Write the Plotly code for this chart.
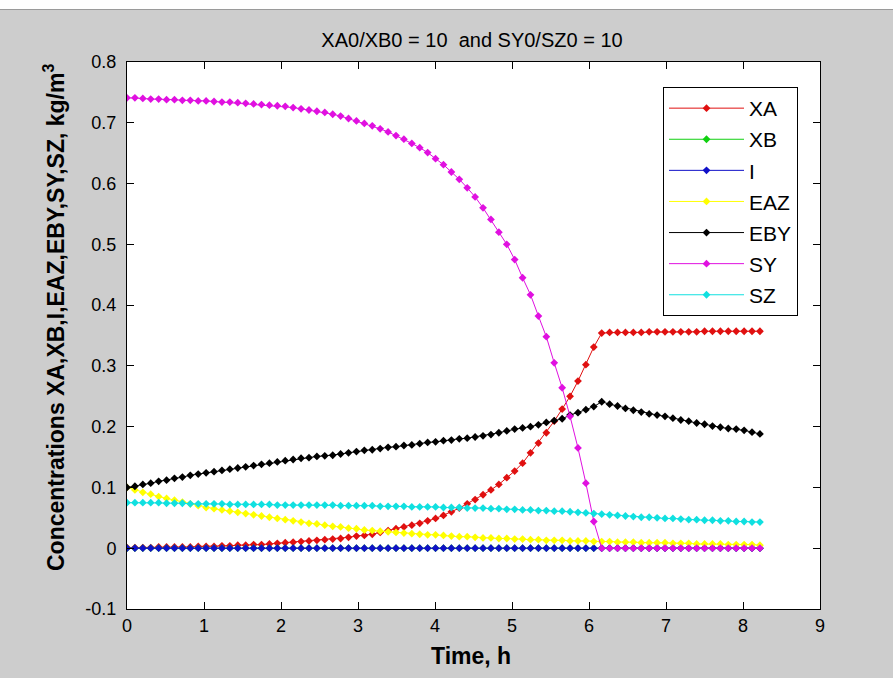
import numpy as np
import plotly.graph_objects as go

# Simulation output grid (h)
time_h = np.linspace(0.0, 8.22, 81)

XA = [0.001, 0.001, 0.001, 0.001, 0.002, 0.002, 0.002, 0.002, 0.002, 0.003,
      0.003, 0.003, 0.004, 0.004, 0.005, 0.005, 0.006, 0.006, 0.007, 0.008,
      0.009, 0.010, 0.011, 0.012, 0.013, 0.014, 0.015, 0.016, 0.018, 0.020,
      0.021, 0.023, 0.026, 0.029, 0.032, 0.035, 0.038, 0.041, 0.045, 0.049,
      0.054, 0.060, 0.066, 0.073, 0.080, 0.088, 0.096, 0.105, 0.116, 0.127,
      0.140, 0.157, 0.173, 0.190, 0.209, 0.229, 0.250, 0.275, 0.302, 0.331,
      0.354, 0.355, 0.355, 0.355, 0.355, 0.355, 0.356, 0.356, 0.356, 0.356,
      0.356, 0.356, 0.356, 0.357, 0.357, 0.357, 0.357, 0.357, 0.357, 0.357, 0.357]

XB = [0.000, 0.000, 0.000, 0.000, 0.000, 0.000, 0.000, 0.000, 0.000, 0.000,
      0.000, 0.000, 0.000, 0.000, 0.000, 0.000, 0.000, 0.000, 0.000, 0.000,
      0.000, 0.000, 0.000, 0.000, 0.000, 0.000, 0.000, 0.000, 0.000, 0.000,
      0.000, 0.000, 0.000, 0.000, 0.000, 0.000, 0.000, 0.000, 0.000, 0.000,
      0.000, 0.000, 0.000, 0.000, 0.000, 0.000, 0.000, 0.000, 0.000, 0.000,
      0.000, 0.000, 0.000, 0.000, 0.000, 0.000, 0.000, 0.000, 0.000, 0.000,
      0.000, 0.000, 0.000, 0.000, 0.000, 0.000, 0.000, 0.000, 0.000, 0.000,
      0.000, 0.000, 0.000, 0.000, 0.000, 0.000, 0.000, 0.000, 0.000, 0.000, 0.000]

I = [0.000, 0.000, 0.000, 0.000, 0.000, 0.000, 0.000, 0.000, 0.000, 0.000,
     0.000, 0.000, 0.000, 0.000, 0.000, 0.000, 0.000, 0.000, 0.000, 0.000,
     0.000, 0.000, 0.000, 0.000, 0.000, 0.000, 0.000, 0.000, 0.000, 0.000,
     0.000, 0.000, 0.000, 0.000, 0.000, 0.000, 0.000, 0.000, 0.000, 0.000,
     0.000, 0.000, 0.000, 0.000, 0.000, 0.000, 0.000, 0.000, 0.000, 0.000,
     0.000, 0.000, 0.000, 0.000, 0.000, 0.000, 0.000, 0.000, 0.000, 0.000,
     0.000, 0.000, 0.000, 0.000, 0.000, 0.000, 0.000, 0.000, 0.000, 0.000,
     0.000, 0.000, 0.000, 0.000, 0.000, 0.000, 0.000, 0.000, 0.000, 0.000, 0.000]

EAZ = [0.100, 0.096, 0.092, 0.089, 0.085, 0.082, 0.079, 0.076, 0.073, 0.070,
       0.067, 0.065, 0.063, 0.061, 0.059, 0.057, 0.055, 0.053, 0.051, 0.049,
       0.047, 0.045, 0.043, 0.041, 0.040, 0.038, 0.036, 0.035, 0.033, 0.032,
       0.030, 0.029, 0.028, 0.027, 0.026, 0.025, 0.024, 0.023, 0.022, 0.022,
       0.021, 0.020, 0.019, 0.019, 0.018, 0.017, 0.017, 0.016, 0.016, 0.015,
       0.015, 0.014, 0.014, 0.013, 0.013, 0.013, 0.012, 0.012, 0.012, 0.011,
       0.011, 0.011, 0.010, 0.010, 0.010, 0.009, 0.009, 0.009, 0.009, 0.008,
       0.008, 0.008, 0.007, 0.007, 0.007, 0.007, 0.006, 0.006, 0.006, 0.006, 0.005]

EBY = [0.100, 0.102, 0.105, 0.107, 0.110, 0.112, 0.115, 0.117, 0.120, 0.122,
       0.124, 0.126, 0.128, 0.130, 0.132, 0.134, 0.136, 0.138, 0.140, 0.142,
       0.144, 0.146, 0.148, 0.149, 0.151, 0.152, 0.153, 0.155, 0.157, 0.159,
       0.161, 0.162, 0.164, 0.166, 0.167, 0.169, 0.170, 0.172, 0.174, 0.175,
       0.177, 0.178, 0.180, 0.181, 0.183, 0.185, 0.187, 0.190, 0.193, 0.196,
       0.198, 0.200, 0.203, 0.207, 0.210, 0.213, 0.219, 0.223, 0.228, 0.233,
       0.241, 0.237, 0.234, 0.230, 0.227, 0.224, 0.221, 0.219, 0.217, 0.214,
       0.211, 0.209, 0.206, 0.204, 0.201, 0.199, 0.197, 0.196, 0.194, 0.191, 0.188]

SY = [0.741, 0.741, 0.740, 0.739, 0.739, 0.738, 0.738, 0.737, 0.737, 0.736,
      0.736, 0.735, 0.734, 0.734, 0.733, 0.732, 0.731, 0.730, 0.729, 0.728,
      0.727, 0.725, 0.723, 0.721, 0.719, 0.717, 0.714, 0.711, 0.707, 0.703,
      0.699, 0.695, 0.690, 0.685, 0.679, 0.673, 0.666, 0.659, 0.651, 0.641,
      0.631, 0.619, 0.607, 0.593, 0.578, 0.560, 0.541, 0.520, 0.500, 0.475,
      0.445, 0.417, 0.382, 0.348, 0.305, 0.264, 0.217, 0.165, 0.107, 0.044,
      0.000, 0.000, 0.000, 0.000, 0.000, 0.000, 0.000, 0.000, 0.000, 0.000,
      0.000, 0.000, 0.000, 0.000, 0.000, 0.000, 0.000, 0.000, 0.000, 0.000, 0.000]

SZ = [0.075, 0.075, 0.075, 0.075, 0.075, 0.074, 0.074, 0.074, 0.073, 0.073,
      0.073, 0.073, 0.073, 0.072, 0.072, 0.072, 0.072, 0.072, 0.072, 0.071,
      0.071, 0.071, 0.071, 0.071, 0.071, 0.071, 0.071, 0.070, 0.070, 0.070,
      0.070, 0.070, 0.069, 0.069, 0.069, 0.069, 0.068, 0.068, 0.068, 0.068,
      0.067, 0.067, 0.067, 0.066, 0.066, 0.066, 0.065, 0.065, 0.064, 0.064,
      0.063, 0.063, 0.062, 0.062, 0.061, 0.061, 0.060, 0.059, 0.058, 0.057,
      0.056, 0.055, 0.054, 0.053, 0.052, 0.051, 0.051, 0.050, 0.049, 0.049,
      0.048, 0.047, 0.047, 0.046, 0.046, 0.045, 0.045, 0.044, 0.044, 0.043, 0.043]

series_names = ["XA", "XB", "I", "EAZ", "EBY", "SY", "SZ"]
series_values = [XA, XB, I, EAZ, EBY, SY, SZ]
series_colors = ["#e01010", "#10d010", "#1010c8", "#ffff00", "#000000", "#e010e0", "#10e0e0"]

x_ticks = [0, 1, 2, 3, 4, 5, 6, 7, 8, 9]
y_ticks = [-0.1, 0, 0.1, 0.2, 0.3, 0.4, 0.5, 0.6, 0.7, 0.8]
y_tick_text = ["-0.1", "0", "0.1", "0.2", "0.3", "0.4", "0.5", "0.6", "0.7", "0.8"]

FIG_BG = "#cdcdcd"
NARROW = "Liberation Sans Narrow, Liberation Sans, Arial"
TICK_FONT = dict(family=NARROW, size=18, color="#000")

fig = go.Figure()
for name, vals, col in zip(series_names, series_values, series_colors):
    fig.add_trace(go.Scatter(
        x=time_h, y=vals, name=name, mode="lines+markers",
        line=dict(color=col, width=1),
        marker=dict(symbol="diamond", size=6, color=col),
        legendgroup=name,
    ))

axis_common = dict(
    showline=True, linecolor="#000", linewidth=1, mirror="ticks",
    ticks="inside", ticklen=7, tickwidth=1, tickcolor="#000",
    showgrid=False, zeroline=False, tickfont=TICK_FONT,
)

fig.update_layout(
    width=893, height=678,
    margin=dict(l=127, r=73, t=62, b=69),
    paper_bgcolor=FIG_BG, plot_bgcolor="#ffffff",
    title=dict(
        text="XA0/XB0 = 10 \u00a0and SY0/SZ0 = 10",
        x=472 / 893, xanchor="center", y=1 - 40 / 678, yanchor="middle",
        font=dict(family=NARROW, size=20, color="#000"),
    ),
    xaxis=dict(range=[0, 9], tickvals=x_ticks, **axis_common),
    yaxis=dict(range=[-0.1, 0.8], tickvals=y_ticks, ticktext=y_tick_text,
               ticklabelstandoff=6, **axis_common),
    legend=dict(
        x=(663 - 127) / 693, xanchor="left", y=(609 - 87) / 547, yanchor="top",
        bgcolor="#ffffff", bordercolor="#000", borderwidth=1,
        font=dict(family="Liberation Sans", size=21, color="#000"),
        tracegroupgap=0.8, itemwidth=75,
    ),
    showlegend=True,
)

# Axis titles
fig.add_annotation(
    text="<b>Time, h</b>", xref="paper", yref="paper",
    x=(471 - 127) / 693, y=(609 - 656) / 547, xanchor="center", yanchor="middle",
    showarrow=False, font=dict(family="Liberation Sans", size=23, color="#000"),
)
fig.add_annotation(
    text="<b>Concentrations XA,XB,I,EAZ,EBY,SY,SZ, kg/m<sup>3</sup></b>",
    xref="paper", yref="paper", textangle=-90,
    x=(54 - 127) / 693, y=(609 - 318) / 547, xanchor="center", yanchor="middle",
    showarrow=False, font=dict(family="Liberation Sans", size=23, color="#000"),
)

# Window strip along the top edge
fig.add_shape(type="rect", xref="paper", yref="paper",
              x0=-0.3, x1=1.3, y0=(609 - 9) / 547, y1=(609 + 5) / 547,
              fillcolor="#ffffff", line=dict(width=0), layer="above")
fig.add_shape(type="line", xref="paper", yref="paper",
              x0=-0.3, x1=1.3, y0=(609 - 9.5) / 547, y1=(609 - 9.5) / 547,
              line=dict(color="#9a9a9a", width=1), layer="above")

fig.write_html("out.html")
